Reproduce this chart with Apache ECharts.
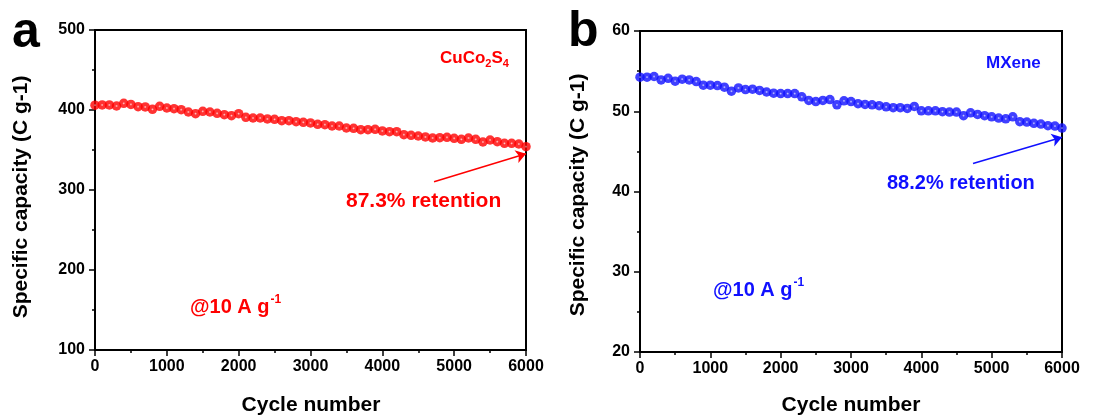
<!DOCTYPE html>
<html><head><meta charset="utf-8">
<script src="https://cdn.jsdelivr.net/npm/echarts@6/dist/echarts.min.js"></script>
<style>html,body{margin:0;padding:0;background:#fff}#c{width:1094px;height:418px}</style>
</head><body><div id="c"></div>
<script>
const cycles = [0,100,200,300,400,500,600,700,800,900,1000,1100,1200,1300,1400,1500,1600,1700,1800,1900,2000,2100,2200,2300,2400,2500,2600,2700,2800,2900,3000,3100,3200,3300,3400,3500,3600,3700,3800,3900,4000,4100,4200,4300,4400,4500,4600,4700,4800,4900,5000,5100,5200,5300,5400,5500,5600,5700,5800,5900,6000];
const cuco2s4 = [406.0,406.3,406.3,405.0,408.3,407.0,404.2,403.8,400.8,404.6,402.5,401.7,400.4,397.5,395.4,398.3,397.5,395.8,394.2,392.9,395.4,390.8,390.0,390.0,388.8,388.3,386.7,386.7,385.4,384.6,383.8,382.1,381.7,380.0,380.0,377.5,377.1,375.4,375.4,375.8,373.8,372.9,372.9,369.2,368.3,367.5,366.3,365.0,365.4,365.8,364.6,363.3,365.0,363.3,360.0,362.5,360.4,358.3,358.3,357.5,354.2];
const mxene = [54.25,54.25,54.33,53.9,54.1,53.75,54.0,53.9,53.7,53.25,53.25,53.2,53.0,52.5,52.9,52.7,52.75,52.6,52.4,52.25,52.2,52.2,52.2,51.8,51.35,51.2,51.35,51.45,50.8,51.3,51.2,50.95,50.85,50.8,50.7,50.55,50.45,50.45,50.35,50.6,50.05,50.05,50.05,49.95,49.9,49.9,49.45,49.8,49.6,49.45,49.3,49.15,49.05,49.3,48.7,48.65,48.5,48.4,48.2,48.15,47.9];
const xTicks = {min:0, max:6000, interval:1000};
const yTicksA = {min:100, max:500, interval:100};
const yTicksB = {min:20, max:60, interval:10};
const arrowA = [[4720, 310.4], [6000, 345.4]];
const arrowB = [[4735, 43.5], [6000, 46.75]];

const FONT = '"Liberation Sans", Arial, sans-serif';
const chart = echarts.init(document.getElementById('c'), null, {renderer:'canvas'});

function grad(c, light){
  return {type:'radial', x:0.5, y:0.5, r:0.5,
    colorStops:[{offset:0,color:light},{offset:0.3,color:c},{offset:1,color:c}]};
}
function xAx(i){
  return {gridIndex:i, type:'value', min:xTicks.min, max:xTicks.max, interval:xTicks.interval,
    axisLine:{show:true, onZero:false, lineStyle:{color:'#000', width:2}},
    axisTick:{show:true, inside:false, length:6, lineStyle:{color:'#000', width:1.5}},
    minorTick:{show:true, splitNumber:2, length:3, lineStyle:{color:'#000', width:1.5}},
    splitLine:{show:false},
    axisLabel:{color:'#000', fontFamily:FONT, fontWeight:'bold', fontSize:16, margin:9, formatter:v=>String(v)}};
}
function yAx(i, t){
  return {gridIndex:i, type:'value', min:t.min, max:t.max, interval:t.interval,
    axisLine:{show:true, lineStyle:{color:'#000', width:2}},
    axisTick:{show:true, inside:false, length:6, lineStyle:{color:'#000', width:1.5}},
    minorTick:{show:true, splitNumber:2, length:3, lineStyle:{color:'#000', width:1.5}},
    splitLine:{show:false},
    axisLabel:{color:'#000', fontFamily:FONT, fontWeight:'bold', fontSize:16, margin:10, formatter:v=>String(v)}};
}
function txt(x, y, rich, text){
  return {type:'text', x:x, y:y, style:{text:text, rich:rich, fontFamily:FONT, fontWeight:'bold', verticalAlign:'middle'}};
}
const red = '#ff0000', blue = '#1010ff';
function mkRich(c){
  return {
    m:{fontSize:17, fontWeight:'bold', fontFamily:FONT, fill:c, color:c},
    s:{fontSize:11, fontWeight:'bold', fontFamily:FONT, fill:c, color:c, padding:[12,0,0,0]},
    b:{fontSize:21, fontWeight:'bold', fontFamily:FONT, fill:c, color:c},
    b2:{fontSize:20, fontWeight:'bold', fontFamily:FONT, fill:c, color:c},
    g:{fontSize:20, fontWeight:'bold', fontFamily:FONT, fill:c, color:c},
    sup:{fontSize:12, fontWeight:'bold', fontFamily:FONT, fill:c, color:c, padding:[0,0,14,1]}
  };
}
const richRed = mkRich(red), richBlue = mkRich(blue);

chart.setOption({
  animation:false,
  backgroundColor:'#fff',
  grid:[
    {left:95, top:30, right:568, bottom:68, show:true, borderColor:'#000', borderWidth:2, backgroundColor:'transparent'},
    {left:640, top:31, right:32, bottom:66, show:true, borderColor:'#000', borderWidth:2, backgroundColor:'transparent'}
  ],
  xAxis:[xAx(0), xAx(1)],
  yAxis:[yAx(0, yTicksA), yAx(1, yTicksB)],
  series:[
    {type:'scatter', xAxisIndex:0, yAxisIndex:0, symbol:'circle', symbolSize:9.5,
     data:cycles.map((c,i)=>[c, cuco2s4[i]]),
     itemStyle:{color:grad(red,'#ffc8c8')},
     markLine:{silent:true, symbol:['none','arrow'], symbolSize:10, label:{show:false},
       lineStyle:{color:red, width:1.5, type:'solid'},
       data:[[{coord:arrowA[0]},{coord:arrowA[1]}]]}},
    {type:'scatter', xAxisIndex:1, yAxisIndex:1, symbol:'circle', symbolSize:9.5,
     data:cycles.map((c,i)=>[c, mxene[i]]),
     itemStyle:{color:grad(blue,'#c8c8ff')},
     markLine:{silent:true, symbol:['none','arrow'], symbolSize:10, label:{show:false},
       lineStyle:{color:blue, width:1.5, type:'solid'},
       data:[[{coord:arrowB[0]},{coord:arrowB[1]}]]}}
  ],
  graphic:[
    {type:'text', x:12, y:33, style:{text:'a', fontFamily:FONT, fontWeight:'bold', fontSize:50, fill:'#000', verticalAlign:'middle'}},
    {type:'text', x:568, y:32, style:{text:'b', fontFamily:FONT, fontWeight:'bold', fontSize:50, fill:'#000', verticalAlign:'middle'}},
    {type:'text', x:21, y:197, rotation:Math.PI/2, style:{text:'Specific capacity (C g-1)', fontFamily:FONT, fontWeight:'bold', fontSize:21, fill:'#000', align:'center', verticalAlign:'middle'}},
    {type:'text', x:578, y:195, rotation:Math.PI/2, style:{text:'Specific capacity (C g-1)', fontFamily:FONT, fontWeight:'bold', fontSize:21, fill:'#000', align:'center', verticalAlign:'middle'}},
    {type:'text', x:311, y:405, style:{text:'Cycle number', fontFamily:FONT, fontWeight:'bold', fontSize:21, fill:'#000', align:'center', verticalAlign:'middle'}},
    {type:'text', x:851, y:405, style:{text:'Cycle number', fontFamily:FONT, fontWeight:'bold', fontSize:21, fill:'#000', align:'center', verticalAlign:'middle'}},
    txt(440, 58, richRed, '{m|CuCo}{s|2}{m|S}{s|4}'),
    txt(346, 201, richRed, '{b|87.3% retention}'),
    txt(190, 307, richRed, '{g|@10 A g}{sup|-1}'),
    txt(986, 63, richBlue, '{m|MXene}'),
    txt(887, 183, richBlue, '{b2|88.2% retention}'),
    txt(713, 290, richBlue, '{g|@10 A g}{sup|-1}')
  ]
});
</script>
</body></html>
